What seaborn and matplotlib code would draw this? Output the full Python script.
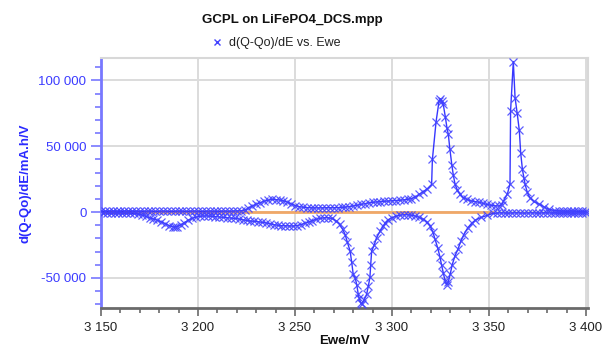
import numpy as np
import pandas as pd
import matplotlib
matplotlib.use("Agg")
import matplotlib.pyplot as plt
import seaborn as sns
from matplotlib.ticker import MultipleLocator, FixedLocator, FixedFormatter
from matplotlib.lines import Line2D

# ---------------- data ----------------
# charge branch (Ewe ascending), mV and mA.h/V
charge_E = [3150, 3152, 3154, 3156, 3158, 3160, 3162, 3164, 3166, 3168, 3170, 3172, 3174,
            3176, 3178, 3180, 3182, 3184, 3186, 3188, 3190, 3192, 3194, 3196, 3198, 3200,
            3202, 3204, 3206, 3208, 3210, 3212, 3214, 3216, 3218, 3220, 3222,
            3224, 3226, 3228, 3230, 3232, 3234, 3236, 3238, 3240, 3242, 3244, 3246, 3248,
            3250, 3252, 3254, 3256, 3258, 3260, 3262, 3264, 3266, 3268, 3270, 3272, 3274,
            3276, 3278, 3280, 3282, 3284, 3286, 3288, 3290, 3292, 3294, 3296, 3298, 3300,
            3302, 3304, 3306, 3308, 3310, 3312, 3314, 3316, 3318, 3320.4, 3320.8, 3322.7,
            3324.2, 3324.9, 3325.6, 3326.4, 3327.5, 3328.3, 3329.0, 3329.8, 3330.8, 3331.6,
            3332.5, 3333.6, 3334.8, 3336.6, 3338.5, 3340.5, 3342.7, 3345, 3347, 3349, 3351,
            3353, 3355, 3356.5, 3357.4, 3359.5, 3360.8, 3361.1, 3362.5, 3363.4, 3364.5,
            3365.6, 3366.3, 3367.2, 3368.0, 3368.6, 3369.7, 3371, 3373, 3376, 3378.5, 3381,
            3384, 3386, 3388, 3390, 3392, 3394, 3396, 3398, 3400]
charge_V = [600, 700, 600, 800, 700, 600, 700, 800, 600, 700, 700, 600, 800,
            700, 600, 700, 800, 700, 600, 700, 800, 700, 600, 700, 800, 700,
            600, 700, 800, 700, 600, 700, 800, 700, 800, 900, 1000,
            1500, 3000, 4500, 6000, 7100, 8200, 9000, 9600, 9500, 9200, 8600, 7600, 6200,
            5000, 4200, 3700, 3400, 3300, 3200, 3200, 3200, 3300, 3300, 3300, 3400, 3500,
            3800, 4200, 4700, 5200, 5800, 6400, 7000, 7400, 7700, 8000, 8200, 8400, 8600,
            8800, 9000, 9300, 9700, 10300, 11500, 13400, 15500, 17500, 21000, 40000, 68700,
            84000, 86000, 84500, 81800, 72000, 64000, 59000, 48000, 36000, 28000,
            21000, 17000, 14000, 11000, 9600, 8600, 8000, 7400, 6600, 5800, 5200,
            4800, 4600, 5500, 8400, 14000, 21600, 76800, 114300, 87000, 75000,
            62000, 45000, 32400, 26000, 21000, 15000, 11000, 8200, 5900, 3800, 2000,
            1200, 900, 800, 700, 800, 700, 600, 700, 600]

# discharge branch (Ewe descending)
discharge_E = [3400, 3398, 3396, 3394, 3392, 3390, 3388, 3386, 3384, 3382, 3380, 3378, 3376,
               3374, 3372, 3370, 3368, 3366, 3364, 3362, 3360, 3358, 3356, 3354, 3352,
               3349, 3346, 3343, 3341, 3339, 3337, 3335.5, 3334, 3332.5, 3331, 3330, 3329,
               3328.2, 3327.3, 3326.4, 3325.5, 3324.7, 3323.5, 3322.2, 3321, 3319.6, 3318,
               3316, 3314, 3312, 3310, 3308, 3306, 3304, 3302, 3300, 3298, 3296.5, 3295.5,
               3294, 3292, 3290.8, 3289.5, 3289.0, 3288.6, 3287.8, 3286.9, 3285.5, 3284.5,
               3283.9, 3283.0, 3282.6, 3281.8, 3281.0, 3280.0, 3279.2, 3278.4, 3277, 3275.8,
               3274.5, 3273, 3271, 3269, 3267, 3265, 3263, 3261, 3259, 3257, 3255, 3253,
               3251, 3249, 3247, 3245, 3243, 3241, 3239, 3237, 3235, 3233, 3231, 3229, 3227,
               3225, 3223, 3221, 3219, 3217, 3215, 3213, 3211, 3209, 3207, 3205, 3203, 3201,
               3199, 3197, 3195, 3193, 3191, 3189, 3188, 3187, 3185, 3183, 3181, 3179, 3177,
               3175, 3173, 3171, 3169, 3167, 3165, 3163, 3161, 3159, 3157, 3155, 3153, 3151]
discharge_V = [-600, -700, -600, -800, -700, -600, -700, -800, -600, -700, -700, -600, -800,
               -700, -600, -700, -800, -700, -600, -700, -800, -700, -600, -800, -1000,
               -2500, -4000, -6000, -8500, -12000, -17000, -22000, -28000, -33000, -40000,
               -47000, -53000,
               -55000, -52000, -46000, -40000, -34000, -27000, -20700, -15000, -10500, -7500,
               -5500, -4000, -3000, -2400, -2000, -2000, -2400, -3200, -4200, -5800, -8000,
               -10600,
               -14000, -19500, -25000, -29600, -40000, -49600, -56000, -62500, -67000, -69500,
               -69000, -65000, -62500, -55000, -50000, -47300, -38000, -29600, -23000, -17000,
               -13000, -9300, -6500, -4800, -4300, -4300, -4800, -5500, -6500, -7500, -8500,
               -9500,
               -10200, -10600, -10500, -10400, -10300, -10000, -9500, -8800, -8200, -7800,
               -7300, -7000, -6800,
               -6300, -5800, -5200, -4800, -4500, -4300, -4000, -3700, -3400, -3200, -3000,
               -3000, -3200,
               -3800, -4800, -6200, -8000, -9800, -11000, -11400, -11200, -10200, -8800,
               -7400, -6200, -5200,
               -4300, -3200, -2200, -1500, -1000, -700, -800, -700, -600, -700, -800, -700,
               -600]

# zero reference trace (orange)
ref_E = [3150, 3352]
ref_V = [0, 0]

series_label = "d(Q-Qo)/dE vs. Ewe"
title_text = "GCPL on LiFePO4_DCS.mpp"
x_label = "Ewe/mV"
y_label = "d(Q-Qo)/dE/mA.h/V"
x_ticks = [3150, 3200, 3250, 3300, 3350, 3400]
x_tick_labels = ["3 150", "3 200", "3 250", "3 300", "3 350", "3 400"]
y_ticks = [-50000, 0, 50000, 100000]
y_tick_labels = ["-50 000", "0", "50 000", "100 000"]

# ---------------- plotting ----------------
sns.set_style("white")
plt.rcParams["font.family"] = ["Liberation Sans", "DejaVu Sans"]

df = pd.DataFrame({
    "E": charge_E + discharge_E,
    "V": charge_V + discharge_V,
})
df_ref = pd.DataFrame({"E": ref_E, "V": ref_V})

fig = plt.figure(figsize=(6.05, 3.51), dpi=100)
ax = fig.add_axes([101 / 605, 1 - 308 / 351, (588 - 101) / 605, (308 - 58) / 351])

blue = "#1414ff"
sns.lineplot(data=df, x="E", y="V", sort=False, estimator=None, ax=ax,
             color=blue, lw=1.0, marker="x", markersize=6, markeredgewidth=0.9,
             markeredgecolor="#4040ff", alpha=0.85, zorder=3)
sns.lineplot(data=df_ref, x="E", y="V", sort=False, estimator=None, ax=ax,
             color="#f0a868", lw=2.0, zorder=2)

ax.set_xlim(3150, 3401)
ax.set_ylim(-72800, 117000)

ax.xaxis.set_major_locator(FixedLocator(x_ticks))
ax.xaxis.set_major_formatter(FixedFormatter(x_tick_labels))
ax.xaxis.set_minor_locator(MultipleLocator(10))
ax.yaxis.set_major_locator(FixedLocator(y_ticks))
ax.yaxis.set_major_formatter(FixedFormatter(y_tick_labels))
ax.yaxis.set_minor_locator(MultipleLocator(10000))

ax.grid(True, which="major", color="#dcdcdc", lw=1.4, zorder=0)
ax.set_axisbelow(True)

for s in ["top", "right"]:
    ax.spines[s].set_color("#d8d8d8")
    ax.spines[s].set_linewidth(1.5)
ax.spines["left"].set_color("#7878ff")
ax.spines["left"].set_linewidth(2)
ax.spines["bottom"].set_color("#6a6a6a")
ax.spines["bottom"].set_linewidth(2)

ax.tick_params(axis="y", which="major", direction="out", length=7, width=1.2,
               color="#7878ff", labelcolor="#3c3cff", labelsize=9.5, left=True)
ax.tick_params(axis="y", which="minor", direction="out", length=4, width=1.2,
               color="#7878ff", left=True)
ax.tick_params(axis="x", which="major", direction="out", length=6, width=1.2,
               color="#6a6a6a", labelcolor="#222222", labelsize=9.5, bottom=True, pad=4)
ax.tick_params(axis="x", which="minor", direction="out", length=3.5, width=1.2,
               color="#6a6a6a", bottom=True)

ax.set_xlabel(x_label, fontsize=9.5, fontweight="bold", color="#111111", labelpad=1)
ax.set_ylabel(y_label, fontsize=9.5, fontweight="bold", color="#2a2aff", labelpad=5)

fig.text(292 / 605, 1 - 20 / 351, title_text, ha="center", va="center",
         fontsize=9.5, fontweight="bold", color="#111111")

h = Line2D([], [], color=blue, lw=1.0, marker="x", markersize=5, markeredgewidth=1.0,
           linestyle="none", alpha=0.8)
fig.legend([h], [series_label], loc="center", bbox_to_anchor=(275 / 605, 1 - 43 / 351),
           frameon=False, fontsize=9, handletextpad=0.3, handlelength=1.2,
           labelcolor="#222222")
if ax.get_legend() is not None:
    ax.get_legend().remove()

fig.savefig("out.png", dpi=100)
